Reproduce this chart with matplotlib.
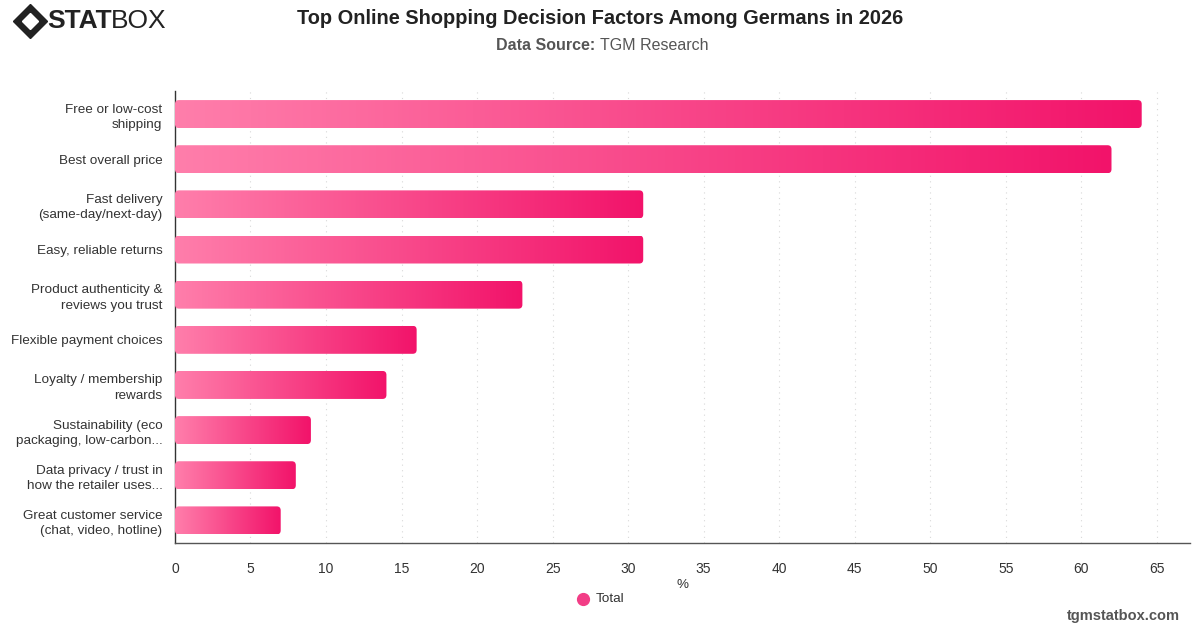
import matplotlib.pyplot as plt
import numpy as np
from matplotlib.patches import FancyBboxPatch
from matplotlib.colors import LinearSegmentedColormap
from matplotlib.lines import Line2D

plt.rcParams['font.family'] = ['Liberation Sans', 'DejaVu Sans']

categories = [
    "Free or low-cost\nshipping",
    "Best overall price",
    "Fast delivery\n(same-day/next-day)",
    "Easy, reliable returns",
    "Product authenticity &\nreviews you trust",
    "Flexible payment choices",
    "Loyalty / membership\nrewards",
    "Sustainability (eco\npackaging, low-carbon...",
    "Data privacy / trust in\nhow the retailer uses...",
    "Great customer service\n(chat, video, hotline)",
]
values = [64, 62, 31, 31, 23, 16, 14, 9, 8, 7]
xticks = list(range(0, 70, 5))

fig = plt.figure(figsize=(12, 6.28), dpi=100)
ax = fig.add_axes([0.1458, 0.1354, 0.8459, 0.7189])

cmap = LinearSegmentedColormap.from_list("pink", ["#ff7eab", "#f2136a"])
grad = np.linspace(0, 1, 256).reshape(1, -1)
bar_h = 0.62

for i, v in enumerate(values):
    y0 = i - bar_h / 2
    patch = FancyBboxPatch((0, y0), v, bar_h,
                           boxstyle="round,pad=0,rounding_size=0.26",
                           mutation_aspect=0.34, facecolor="none",
                           edgecolor="none", zorder=3)
    ax.add_patch(patch)
    im = ax.imshow(grad, cmap=cmap, aspect="auto",
                   extent=(0, v, i + bar_h / 2, y0), zorder=3)
    im.set_clip_path(patch)

ax.set_aspect("auto")
ax.set_xlim(0, 67.2)
ax.set_ylim(len(categories) - 0.5, -0.5)

ax.set_yticks(range(len(categories)))
ax.set_yticklabels(categories, fontsize=9.7, color="#333333", linespacing=1.4)
ax.set_xticks(xticks)
ax.set_xticklabels([str(t) for t in xticks], fontsize=10, color="#333333")
ax.tick_params(axis="y", length=0, pad=15)
ax.tick_params(axis="x", length=0, pad=14)
ax.grid(axis="x", linestyle=(0, (1, 4)), color="#d8d8d8", linewidth=0.8, zorder=0)
ax.set_axisbelow(True)
for s in ["top", "right"]:
    ax.spines[s].set_visible(False)
ax.spines["left"].set_color("#333333")
ax.spines["bottom"].set_color("#555555")
ax.spines["left"].set_linewidth(1.0)
ax.spines["bottom"].set_linewidth(1.0)
ax.set_xlabel("%", fontsize=9.7, color="#333333", labelpad=2)

fig.text(0.5, 0.971, "Top Online Shopping Decision Factors Among Germans in 2026",
         ha="center", va="center", fontsize=14.4, fontweight="bold", color="#222222")
fig.text(0.5, 0.928, "Data Source: ", ha="right", va="center", fontsize=11.5,
         fontweight="bold", color="#555555")
fig.text(0.5, 0.928, "TGM Research", ha="left", va="center", fontsize=11.5,
         color="#555555")

# legend
fig.lines.append(Line2D([583 / 1200], [1 - 599 / 628], marker="o", markersize=8.5,
                        color="#f23d86", linestyle="none", transform=fig.transFigure))
fig.text(596 / 1200, 1 - 599 / 628, "Total", ha="left", va="center",
         fontsize=9.7, color="#333333")

fig.text(1180 / 1200, 1 - 616 / 628, "tgmstatbox.com", ha="right", va="center",
         fontsize=10.5, fontweight="bold", color="#555555")

# logo
fig.lines.append(Line2D([30 / 1200], [1 - 21 / 628], marker="D", markersize=17,
                        color="#222222", linestyle="none", transform=fig.transFigure))
fig.lines.append(Line2D([30 / 1200], [1 - 21 / 628], marker="D", markersize=8,
                        color="white", linestyle="none", transform=fig.transFigure))
fig.text(47 / 1200, 1 - 21 / 628, "STAT", ha="left", va="center", fontsize=19,
         fontweight="heavy", color="#222222")
fig.text(111 / 1200, 1 - 21 / 628, "BOX", ha="left", va="center", fontsize=19,
         color="#222222")

ax.tick_params(axis="y", pad=9)

fig.savefig("out.png", dpi=100)
